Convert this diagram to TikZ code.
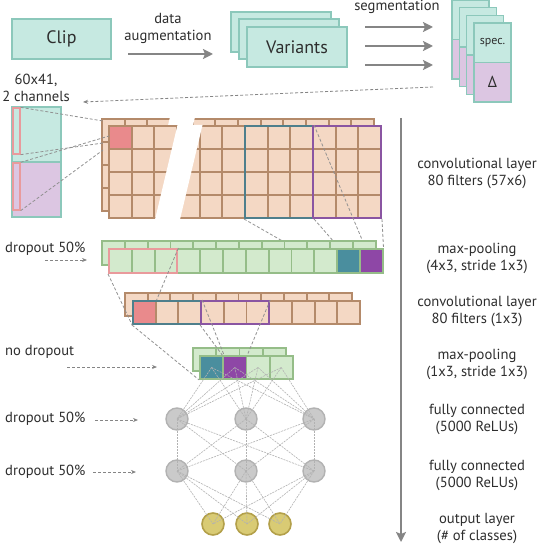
\documentclass[tikz,border=0pt]{standalone}
\usepackage{fontspec}
\setmainfont{PT Sans}
\usetikzlibrary{arrows.meta}
\definecolor{tealF}{HTML}{C6E9E1}
\definecolor{tealD}{HTML}{8CC8BB}
\definecolor{lilac}{HTML}{DCC6E2}
\definecolor{salF}{HTML}{F4D8C4}
\definecolor{salD}{HTML}{B48A6A}
\definecolor{redC}{HTML}{E98A8C}
\definecolor{pinkO}{HTML}{E99A9C}
\definecolor{grnF}{HTML}{D3EACD}
\definecolor{grnD}{HTML}{95BD88}
\definecolor{blueT}{HTML}{4A8E9E}
\definecolor{blueO}{HTML}{4E7F8C}
\definecolor{purp}{HTML}{8E47A6}
\definecolor{purpO}{HTML}{8A55A2}
\definecolor{txt}{HTML}{2E2E2E}
\definecolor{arr}{HTML}{858585}
\definecolor{nodeF}{HTML}{CACACA}
\definecolor{nodeD}{HTML}{B2B2B2}
\definecolor{outF}{HTML}{D9CB74}
\definecolor{outD}{HTML}{B3A04A}
\begin{document}
\begin{tikzpicture}[x=1pt,y=-1pt,
  font=\fontsize{14.6}{17}\selectfont, text=txt,
  cell/.style={draw, inner sep=0pt, line width=1.8pt},
  salcell/.style={cell, draw=salD, fill=salF, minimum width=22.67pt, minimum height=23pt},
  grncell/.style={cell, draw=grnD, fill=grnF, minimum width=22.8pt, minimum height=24pt},
  grncellb/.style={cell, draw=grnD, fill=grnF, minimum width=23.2pt, minimum height=23pt},
  tealbox/.style={draw=tealD, fill=tealF, line width=1.5pt, inner sep=0pt},
  outl/.style={draw=#1, line width=2pt, inner sep=0pt},
  bigarrow/.style={draw=arr, line width=2.6pt, -{Stealth[length=10pt,width=10pt,inset=2pt]}},
  dasharrow/.style={draw=arr, line width=0.8pt, dash pattern=on 3pt off 2pt, -{Stealth[length=5pt,width=4pt]}},
  dline/.style={draw=arr!90, line width=0.8pt, dash pattern=on 3pt off 2pt},
  nnline/.style={draw=black!30, line width=0.6pt, dash pattern=on 2pt off 1pt},
  neuron/.style={circle, draw=nodeD, fill=nodeF, line width=1.4pt, minimum size=22pt, inner sep=0pt},
  outneuron/.style={circle, draw=outD, fill=outF, line width=1.6pt, minimum size=22pt, inner sep=0pt},
  lbl/.style={align=center, inner sep=0pt}
]
\fill[white] (0,0) rectangle (540,553);
\useasboundingbox (0,0) rectangle (540,553);

% ---------- top row ----------
\node[tealbox, minimum width=99pt, minimum height=40pt, font=\fontsize{18}{20}\selectfont] (clip) at (61.5,39) {Clip};
\node[lbl] (augl) at (168,28.5) {data\\augmentation};
\coordinate (augS) at (128,54);
\coordinate (augE) at (213,54);
\draw[bigarrow] (augS) -- (augE);

\node[tealbox, minimum width=100pt, minimum height=40pt] (var3) at (281,32) {};
\node[tealbox, minimum width=100pt, minimum height=40pt] (var2) at (289,39) {};
\node[tealbox, minimum width=100pt, minimum height=40pt, font=\fontsize{18}{20}\selectfont] (var1) at (297,47) {Variants};

\node[lbl] (segl) at (397,7) {segmentation};
\foreach \k/\yy in {1/27,2/46,3/65}{
  \coordinate (sa\k) at (365,\yy);
  \coordinate (sb\k) at (433,\yy);
  \draw[bigarrow] (sa\k) -- (sb\k);
}
\foreach \k/\xx/\yy in {4/452/0,3/459.3/7.7,2/466.6/15.4,1/474/23}{
  \node[tealbox, minimum width=37pt, minimum height=39.5pt] (sp\k) at ({\xx+18.5},{\yy+19.75}) {};
  \node[draw=tealD, fill=lilac, line width=1.5pt, inner sep=0pt, minimum width=37pt, minimum height=39.5pt] (de\k) at ({\xx+18.5},{\yy+59.25}) {};
}
\node[font=\fontsize{12}{14}\selectfont] at (sp1) {spec.};
\node[font=\fontsize{16}{18}\selectfont] at (de1) {Δ};

\coordinate (segS) at (433,87);
\coordinate (segE) at (83,102);
\draw[dasharrow] (segS) -- (segE);
\node[lbl] (inl) at (36,87.5) {60x41,\\2 channels};

% ---------- input image ----------
\node[draw=tealD, fill=tealF, line width=1.5pt, inner sep=0pt, minimum width=49pt, minimum height=55pt] (inT) at (36.5,134.5) {};
\node[draw=tealD, fill=lilac, line width=1.5pt, inner sep=0pt, minimum width=49pt, minimum height=55pt] (inB) at (36.5,189.5) {};
\node[draw=pinkO, line width=1.3pt, inner sep=0pt, minimum width=7pt, minimum height=46pt] (stT) at (16.5,131) {};
\node[draw=pinkO, line width=1.3pt, inner sep=0pt, minimum width=7pt, minimum height=47pt] (stB) at (16.5,186.5) {};

% ---------- conv layer 1 ----------
\foreach \r in {0,...,3}{
  \foreach \c in {0,...,11}{
    \node[salcell] (cb-\r-\c) at ({102+22.67*(\c+0.5)},{119+23*(\r+0.5)}) {};
  }
}
\fill[white] (170,117) -- (195,117) -- (172,213) -- (147,213) -- cycle;
\foreach \r in {0,...,3}{
  \foreach \c in {0,...,11}{
    \node[salcell] (cf-\r-\c) at ({109+22.67*(\c+0.5)},{126+23*(\r+0.5)}) {};
  }
}
\node[salcell, fill=redC] at (cf-0-0) {};
\fill[white] (177.5,125) -- (202.5,125) -- (180,219.5) -- (155,219.5) -- cycle;
\node[outl=blueO, minimum width=68pt, minimum height=92pt] (tb1) at (279,172) {};
\node[outl=purpO, minimum width=68pt, minimum height=92pt] (pb1) at (347,172) {};

\coordinate (rc1) at (103,121);
\coordinate (rc2) at (103,143);
\coordinate (rc3) at (109,136);
\coordinate (rc4) at (103,150);
\draw[dline] (stT.north east) -- (rc1);
\draw[dline] (stT.south east) -- (rc2);
\draw[dline] (stB.north east) -- (rc3);
\draw[dline] (stB.south east) -- (rc4);

% lines conv1 -> maxpool (behind)
\coordinate (mpA) at (338.4,273);
\coordinate (mpB) at (361.2,273);
\coordinate (mpC) at (376,273);
\draw[dline] (tb1.south west) -- (mpA);
\draw[dline] (tb1.south east) -- (mpB);
\draw[dline] (tb1.north east) -- (mpC);

% ---------- max-pooling 1 ----------
\foreach \c in {0,...,11}{
  \node[grncell] (mb-\c) at ({102+22.8*(\c+0.5)},253) {};
}
\foreach \c in {0,...,11}{
  \node[grncell] (mf-\c) at ({109+22.8*(\c+0.5)},261) {};
}
\node[grncell, fill=blueT] at (mf-10) {};
\node[grncell, fill=purp] at (mf-11) {};
\draw[dline] (pb1.south east) -- (mf-11.north east);
\node[outl=pinkO, minimum width=68.4pt, minimum height=24pt] (pk) at (143.2,261) {};

\node[anchor=west, inner sep=0pt] (do1) at (5,249) {dropout 50\%};
\coordinate (do1a) at (45,260);
\coordinate (do1b) at (87,260);
\draw[dasharrow] (do1a) -- (do1b);

% ---------- conv layer 2 ----------
\foreach \c in {0,...,9}{
  \node[salcell] (c2b-\c) at ({125+22.7*(\c+0.5)},304.5) {};
}
\foreach \c in {0,...,9}{
  \node[salcell] (c2f-\c) at ({133+22.7*(\c+0.5)},312.5) {};
}
\node[salcell, fill=redC] at (c2f-0) {};
\node[outl=blueO, minimum width=68.1pt, minimum height=23pt] (tb2) at (167.05,312.5) {};
\node[outl=purpO, minimum width=68.1pt, minimum height=23pt] (pb2) at (235.15,312.5) {};
\draw[dline] (pk.south west) -- (c2f-0.south west);
\draw[dline] (pk.north east) -- (c2f-0.north east);

% ---------- max-pooling 2 ----------
\foreach \c in {0,...,3}{
  \node[grncellb] (p2b-\c) at ({193+23.2*(\c+0.5)},359.5) {};
}
\foreach \c in {0,...,3}{
  \node[grncellb] (p2f-\c) at ({200+23.2*(\c+0.5)},367.5) {};
}
\node[grncellb, fill=blueT] at (p2f-0) {};
\node[grncellb, fill=purp] at (p2f-1) {};
\draw[dline] (tb2.south west) -- (p2f-0.south west);
\draw[dline] (tb2.north east) -- (p2f-0.north east);
\draw[dline] (pb2.south west) -- (p2f-1.north west);
\draw[dline] (pb2.north east) -- (p2f-1.north east);

\node[anchor=west, inner sep=0pt] (nd) at (5,352) {no dropout};
\coordinate (nda) at (67,367);
\coordinate (ndb) at (157,367);
\draw[dasharrow] (nda) -- (ndb);

% ---------- fully connected ----------
\foreach \i/\xx in {1/177,2/246,3/314}{
  \node[neuron] (h1-\i) at (\xx,419) {};
  \node[neuron] (h2-\i) at (\xx,471) {};
}
\foreach \i/\xx in {1/213,2/247,3/280}{
  \node[outneuron] (o-\i) at (\xx,524) {};
}
\foreach \c in {0,...,3}{
  \foreach \i in {1,2,3}{
    \draw[nnline] (p2f-\c.center) -- (h1-\i.center);
  }
}
\foreach \i in {1,2,3}{
  \foreach \j in {1,2,3}{
    \draw[nnline] (h1-\i.center) -- (h2-\j.center);
    \draw[nnline] (h2-\i.center) -- (o-\j.center);
  }
}

\node[anchor=west, inner sep=0pt] (do2) at (5,419) {dropout 50\%};
\coordinate (do2a) at (95,420);
\coordinate (do2b) at (138,420);
\draw[dasharrow] (do2a) -- (do2b);
\node[anchor=west, inner sep=0pt] (do3) at (5,472) {dropout 50\%};
\coordinate (do3a) at (93,472);
\coordinate (do3b) at (136,472);
\draw[dasharrow] (do3a) -- (do3b);

% ---------- right side ----------
\coordinate (vaS) at (401,118);
\coordinate (vaE) at (401,542);
\draw[bigarrow] (vaS) -- (vaE);
\node[lbl] (l1) at (477,173.5) {convolutional layer\\80 filters (57x6)};
\node[lbl] (l2) at (477,258.5) {max-pooling\\(4x3, stride 1x3)};
\node[lbl] (l3) at (477,311.5) {convolutional layer\\80 filters (1x3)};
\node[lbl] (l4) at (477,364) {max-pooling\\(1x3, stride 1x3)};
\node[lbl] (l5) at (477,419.5) {fully connected\\(5000 ReLUs)};
\node[lbl] (l6) at (477,475.5) {fully connected\\(5000 ReLUs)};
\node[lbl] (l7) at (477,528.5) {output layer\\(\# of classes)};
\end{tikzpicture}
\end{document}
